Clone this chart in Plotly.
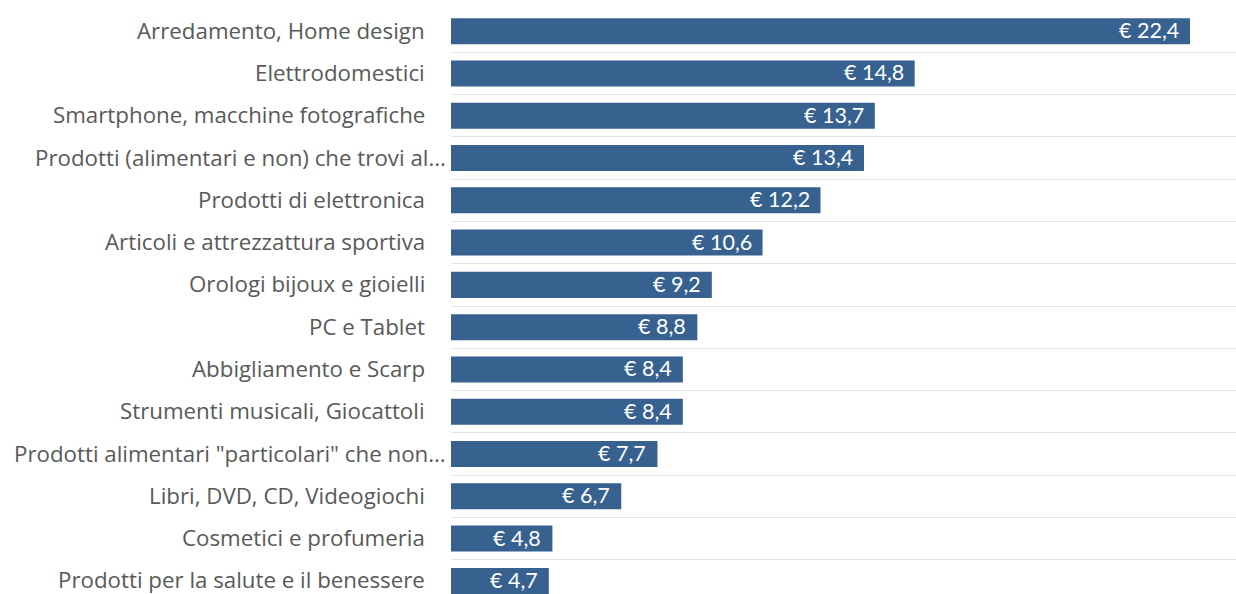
import plotly.graph_objects as go

categories = [
    "Arredamento, Home design",
    "Elettrodomestici",
    "Smartphone, macchine fotografiche",
    "Prodotti (alimentari e non) che trovi al…",
    "Prodotti di elettronica",
    "Articoli e attrezzattura sportiva",
    "Orologi bijoux e gioielli",
    "PC e Tablet",
    "Abbigliamento e Scarp",
    "Strumenti musicali, Giocattoli",
    "Prodotti alimentari \"particolari\" che non…",
    "Libri, DVD, CD, Videogiochi",
    "Cosmetici e profumeria",
    "Prodotti per la salute e il benessere",
]
values = [22.4, 14.8, 13.7, 13.4, 12.2, 10.6, 9.2, 8.8, 8.4, 8.4, 7.7, 6.7, 4.8, 4.7]

BAR_COLOR = "#37618f"
LABEL_COLOR = "#595959"

W, H = 1236, 594
M_L, M_T = 451, 10
plot_w = W - M_L

fig = go.Figure(
    go.Bar(
        x=values,
        y=categories,
        orientation="h",
        marker=dict(color=BAR_COLOR, line=dict(width=0)),
        hoverinfo="skip",
    )
)

# value labels inside the bar ends
for cat, v in zip(categories, values):
    fig.add_annotation(
        x=v, y=cat, xref="x", yref="y",
        text="€ " + f"{v:.1f}".replace(".", ","),
        xanchor="right", yanchor="middle", xshift=-9, yshift=1,
        showarrow=False,
        font=dict(family="Lato", size=21.5, color="white"),
    )

# category labels, truncated ones sit closer to the bars
for cat in categories:
    gap = 3 if cat.endswith("…") else 24
    fig.add_annotation(
        x=-gap / plot_w, y=cat, xref="paper", yref="y",
        text=cat, xanchor="right", yanchor="middle", yshift=1,
        showarrow=False,
        font=dict(family="Open Sans", size=22.3, color=LABEL_COLOR),
    )

fig.update_layout(
    width=W, height=H,
    margin=dict(l=M_L, r=0, t=M_T, b=0, pad=0),
    paper_bgcolor="white", plot_bgcolor="white",
    bargap=0.385,
    showlegend=False,
    xaxis=dict(
        range=[2, 23.67],
        showgrid=False, zeroline=False, showticklabels=False,
        showline=False, fixedrange=True,
    ),
    yaxis=dict(
        type="category",
        range=[13.31, -0.5],
        showticklabels=False,
        showgrid=True, gridcolor="#e4e4e4", gridwidth=1,
        tickson="boundaries", ticks="",
        zeroline=False, showline=False, fixedrange=True,
    ),
)

fig.write_html("out.html")
